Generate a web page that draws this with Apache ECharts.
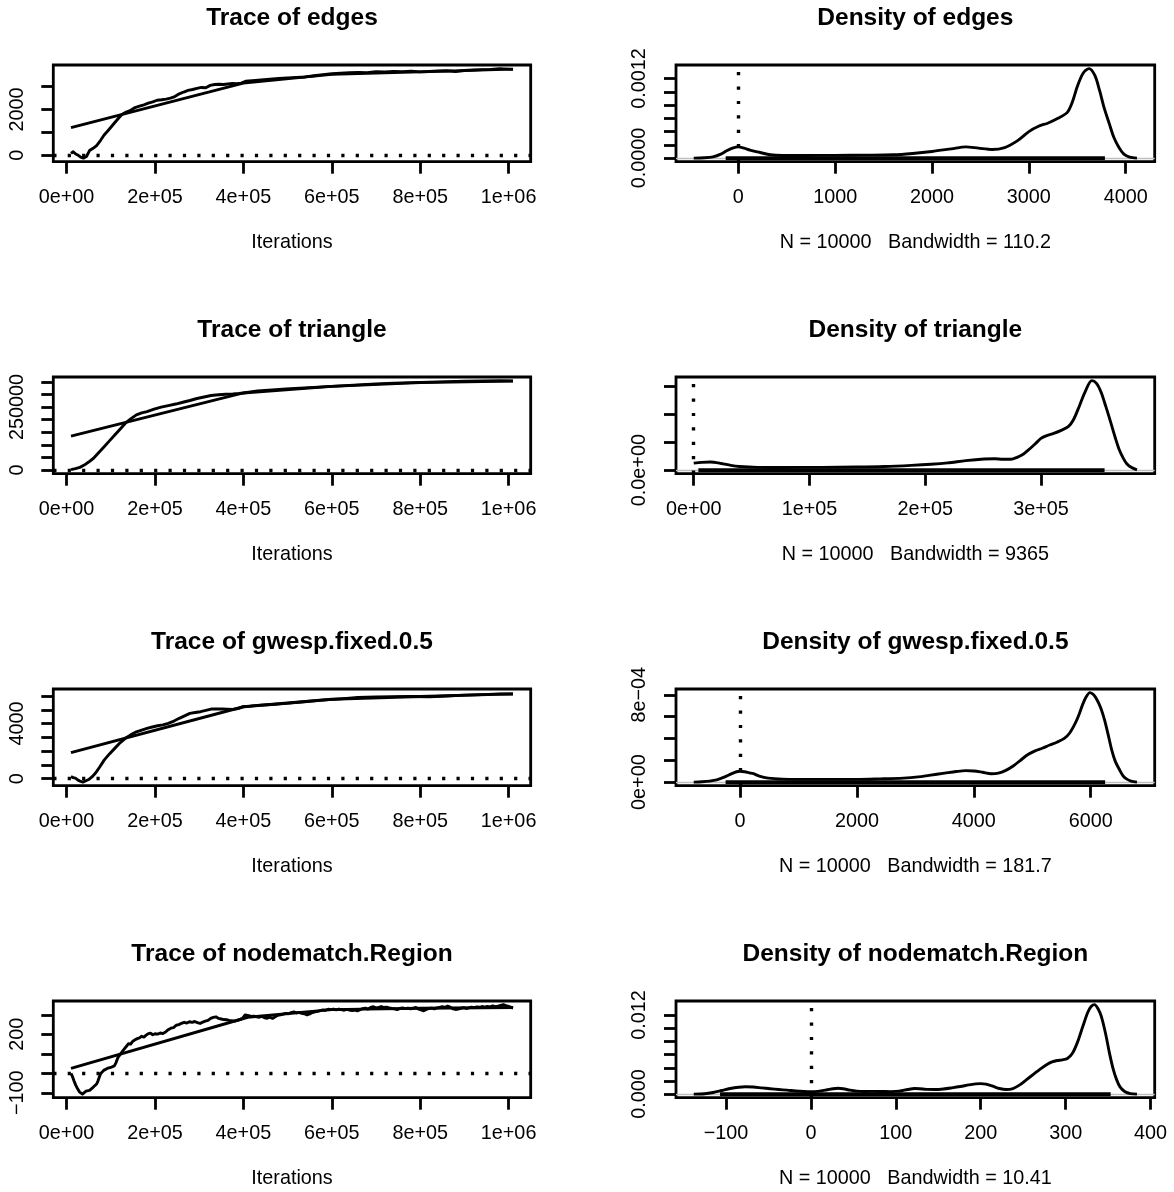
<!DOCTYPE html>
<html><head><meta charset="utf-8">
<script src="https://cdn.jsdelivr.net/npm/echarts@6/dist/echarts.min.js"></script>
<style>html,body{margin:0;padding:0;background:#fff}#c{width:1174px;height:1192px}</style>
</head><body><div id="c"></div>
<script>
// ================= DATA =================
const statNames = ['edges', 'triangle', 'gwesp.fixed.0.5', 'nodematch.Region'];
const sampleSize = 10000;
const bandwidths = ['110.2', '9365', '181.7', '10.41'];
const iterRange = [10000, 1010000];
const iterTicks = [0, 200000, 400000, 600000, 800000, 1000000];
const iterTickLabels = ['0e+00', '2e+05', '4e+05', '6e+05', '8e+05', '1e+06'];

const traceYRange = [[-130, 3785], [0, 355000], [-247, 6246], [-107, 353]];
const traceYTicks = [
  [0, 1000, 2000, 3000],
  [0, 50000, 100000, 150000, 200000, 250000, 300000, 350000],
  [0, 1000, 2000, 3000, 4000, 5000, 6000],
  [-100, 0, 100, 200, 300]
];
const traceYLabelValues = [[0, 2000], [0, 250000], [0, 4000], [-100, 200]];
const traceYLabels = [['0', '2000'], ['0', '250000'], ['0', '4000'], ['\u2212100', '200']];

const densXRange = [[-460, 4116], [0, 383000], [-792, 6791], [-138, 384]];
const densYRange = [[0, 0.00135], [0, 1.61e-5], [0, 8.2e-4], [0, 0.0136]];
const densXTicks = [[0, 1000, 2000, 3000, 4000], [0, 100000, 200000, 300000], [0, 2000, 4000, 6000], [-100, 0, 100, 200, 300, 400]];
const densXLabels = [['0', '1000', '2000', '3000', '4000'], ['0e+00', '1e+05', '2e+05', '3e+05'], ['0', '2000', '4000', '6000'], ['\u2212100', '0', '100', '200', '300', '400']];
const densYTicks = [
  [0, 0.0002, 0.0004, 0.0006, 0.0008, 0.001, 0.0012],
  [0, 5e-6, 1e-5, 1.5e-5],
  [0, 2e-4, 4e-4, 6e-4, 8e-4],
  [0, 0.002, 0.004, 0.006, 0.008, 0.01, 0.012]
];
const densYLabelValues = [[0, 0.0012], [0], [0, 8e-4], [0, 0.012]];
const densYLabels = [['0.0000', '0.0012'], ['0.0e+00'], ['0e+00', '8e\u221204'], ['0.000', '0.012']];
const rugRange = [[-130, 3785], [4000, 355000], [-247, 6246], [-107, 353]];
const refValue = 0;

// ---- traces ----
const edgesTraceIter = [10000,15000,20000,25000,32000,38000,45000,52000,60000,68000,77000,85000,95000,105000,115000,125000,135000,145000,155000,165000,175000,185000,195000,205000,215000,225000,235000,245000,255000,265000,275000,285000,295000,305000,315000,325000,335000,345000,355000,365000,375000,385000,395000,405000,420000,440000,460000,480000,500000,520000,540000,560000,580000,600000,620000,640000,660000,680000,700000,720000,740000,760000,780000,800000,820000,840000,860000,880000,900000,920000,940000,960000,980000,1000000,1010000];
const edgesTraceVal = [80,150,60,10,-90,-130,-60,200,300,420,650,880,1100,1330,1560,1780,1880,1960,2080,2140,2200,2270,2330,2400,2420,2450,2490,2560,2680,2760,2830,2870,2920,2960,2950,3050,3090,3100,3090,3110,3130,3120,3150,3230,3260,3290,3320,3350,3380,3400,3420,3470,3520,3560,3580,3600,3620,3610,3650,3640,3660,3650,3670,3640,3660,3680,3690,3660,3700,3720,3740,3750,3785,3760,3750];
const edgesFitIter = [10000, 400000, 600000, 800000, 1010000];
const edgesFitVal = [1200, 3150, 3530, 3640, 3760];

const triTraceIter = [10000,20000,30000,40000,50000,61000,73000,85000,97000,109000,121000,133000,145000,158000,170000,182000,198000,214000,230000,247000,263000,279000,295000,311000,327000,344000,360000,376000,390000,400000,416000,432000,465000,497000,538000,578000,620000,659000,700000,740000,780000,821000,860000,901000,940000,980000,1010000];
const triTraceVal = [2000,6000,11000,20000,32000,47000,70000,93000,116000,139000,162000,186000,203000,219000,227000,232000,242000,250000,256000,262000,269000,276000,284000,290000,296000,299000,301000,302000,304000,306000,310000,314000,318000,322000,326000,330000,334000,338000,342000,345000,347000,349000,351000,353000,354000,355000,354000];
const triFitIter = [10000, 400000, 600000, 800000, 1010000];
const triFitVal = [135000, 306000, 332000, 347000, 353000];

const gwTraceIter = [10000,15000,20000,26000,32000,37000,44000,50000,58000,65000,75000,85000,97000,109000,121000,133000,145000,158000,170000,182000,194000,206000,218000,230000,243000,255000,267000,279000,291000,303000,315000,327000,340000,352000,364000,376000,388000,400000,416000,432000,465000,497000,538000,578000,620000,659000,700000,740000,780000,821000,860000,901000,940000,980000,1010000];
const gwTraceVal = [150,80,40,-100,-200,-247,-150,-60,150,390,850,1350,1800,2200,2600,2930,3180,3400,3530,3650,3750,3840,3900,4020,4180,4380,4560,4740,4800,4860,4950,5050,5060,5050,5040,5030,5080,5220,5260,5320,5380,5460,5580,5700,5790,5900,5930,5950,5960,5940,6000,6060,6100,6150,6140];
const gwFitIter = [10000, 400000, 600000, 800000, 1010000];
const gwFitVal = [1890, 5220, 5760, 5960, 6150];

const nmTraceIter = [10000,13000,17000,21000,25000,29000,33000,36000,40000,44000,48000,52000,56000,60000,64000,68000,71000,74000,77000,80000,84000,88000,92000,96000,100000,104000,108000,112000,116000,120000,124000,128000,132000,136000,140000,145000,150000,155000,160000,165000,170000,175000,180000,185000,190000,195000,200000,206000,212000,218000,224000,230000,236000,242000,248000,254000,260000,266000,272000,278000,284000,290000,296000,302000,308000,314000,320000,326000,332000,338000,344000,350000,356000,362000,368000,374000,380000,386000,392000,398000,404000,408000,412000,418000,424000,430000,436000,442000,448000,454000,460000,466000,472000,478000,484000,490000,496000,502000,508000,514000,520000,526000,532000,538000,544000,550000,556000,562000,568000,574000,580000,586000,592000,598000,604000,610000,616000,622000,628000,634000,640000,646000,652000,658000,664000,670000,676000,682000,688000,694000,700000,706000,712000,718000,724000,730000,736000,742000,748000,754000,760000,766000,772000,778000,784000,790000,796000,802000,808000,814000,820000,826000,832000,838000,844000,850000,856000,862000,868000,874000,880000,886000,892000,898000,904000,910000,916000,922000,928000,934000,940000,946000,952000,958000,964000,970000,976000,982000,988000,994000,1000000,1006000,1010000];
const nmTraceVal = [0,-15,-40,-62,-80,-95,-104,-107,-100,-92,-86,-88,-78,-72,-70,-55,-40,-20,-2,8,15,12,25,28,30,40,38,55,80,88,105,118,125,140,152,150,165,172,178,182,190,186,196,204,206,198,203,201,207,204,212,224,232,235,247,250,257,262,258,265,262,266,260,256,263,268,272,282,287,290,282,279,276,275,272,270,268,272,276,282,300,305,296,292,294,290,288,292,285,283,288,282,290,298,300,304,308,306,312,315,310,313,308,306,300,305,312,316,318,322,326,324,329,327,330,326,330,327,324,328,325,322,325,321,327,332,335,330,338,342,336,339,343,338,340,336,333,331,327,333,336,332,335,331,334,338,330,326,321,328,333,335,331,336,339,342,338,345,340,331,328,330,334,337,333,336,340,337,341,339,343,340,344,341,346,342,345,349,353,348,344,339,335];
const nmFitIter = [10000, 410000, 600000, 800000, 1010000];
const nmFitVal = [25, 288, 327, 334, 338];

// ---- densities ----
const edgesDensX = [-460,-350,-260,-180,-120,-60,0,60,121,224,330,455,700,1000,1300,1600,1800,2000,2200,2350,2480,2620,2750,2880,3000,3100,3200,3300,3397,3450,3500,3560,3621,3680,3730,3775,3830,3878,3930,3981,4040,4116];
const edgesDensY = [0,5e-6,2e-5,6e-5,1.1e-4,1.5e-4,1.7e-4,1.5e-4,1.2e-4,8.5e-5,5e-5,4e-5,4e-5,4.2e-5,4.5e-5,5e-5,7e-5,1.0e-4,1.4e-4,1.7e-4,1.5e-4,1.3e-4,1.6e-4,2.6e-4,4.0e-4,4.8e-4,5.3e-4,6.0e-4,6.9e-4,8.5e-4,1.08e-3,1.28e-3,1.35e-3,1.25e-3,1.02e-3,7.7e-4,5.2e-4,3.1e-4,1.6e-4,6e-5,1.5e-5,0];

const triDensX = [0,7000,14200,23700,32000,39500,55000,77400,110000,140500,165000,188000,205000,219500,235000,251000,260000,267000,274000,279400,285000,289000,295000,300000,305000,311000,317000,323600,328000,333000,338000,344000,348000,352000,356000,360000,364000,367800,371000,374000,378000,383000];
const triDensY = [1.25e-6,1.4e-6,1.45e-6,1.2e-6,8.5e-7,6.5e-7,5e-7,4.8e-7,5e-7,5.5e-7,6.5e-7,8.5e-7,1.05e-6,1.3e-6,1.7e-6,2.0e-6,2.05e-6,1.95e-6,1.95e-6,2.3e-6,2.9e-6,3.6e-6,4.7e-6,5.7e-6,6.2e-6,6.6e-6,7.1e-6,7.8e-6,9.0e-6,1.14e-5,1.4e-5,1.61e-5,1.56e-5,1.4e-5,1.15e-5,8.8e-6,6.0e-6,3.6e-6,2.2e-6,1.2e-6,5e-7,5e-8];

const gwDensX = [-792,-650,-519,-400,-269,-150,-60,0,80,160,231,330,482,732,1000,1500,1983,2400,2796,3050,3234,3500,3700,3860,4000,4150,4297,4420,4548,4680,4798,4920,5048,5170,5298,5420,5548,5640,5736,5800,5861,5920,5986,6050,6111,6170,6236,6300,6361,6420,6486,6550,6611,6690,6791];
const gwDensY = [0,3e-6,9e-6,2e-5,4.6e-5,7.5e-5,9.5e-5,1.0e-4,9.5e-5,8.5e-5,7.7e-5,5.5e-5,3.7e-5,2.7e-5,2.5e-5,2.5e-5,2.5e-5,3e-5,3.7e-5,4.8e-5,6.2e-5,8.2e-5,9.7e-5,1.05e-4,1.02e-4,9e-5,7.7e-5,8.2e-5,1.08e-4,1.5e-4,2.0e-4,2.5e-4,2.86e-4,3.1e-4,3.4e-4,3.65e-4,4.0e-4,4.5e-4,5.4e-4,6.2e-4,7.1e-4,7.8e-4,8.2e-4,8.0e-4,7.5e-4,6.8e-4,5.7e-4,4.3e-4,2.9e-4,1.9e-4,1.2e-4,6e-5,3e-5,1e-5,0];

const nmDensX = [-138,-125,-115,-105,-95,-85,-77,-68,-58,-48,-38,-28,-18,-8,0,8,18,26,32,38,46,54,64,74,84,94,104,114,122,128,136,146,156,166,176,186,194,200,206,214,222,230,238,246,254,262,270,278,284,290,296,302,308,314,320,326,330,334,338,342,347,352,356,360,364,370,376,384];
const nmDensY = [0,5e-5,2.5e-4,5.5e-4,8.5e-4,1.05e-3,1.12e-3,1.08e-3,9.5e-4,8.2e-4,7e-4,6e-4,4.8e-4,4e-4,3.7e-4,4.2e-4,6.2e-4,8.2e-4,9e-4,8.2e-4,6e-4,4.5e-4,4e-4,4.2e-4,4e-4,3.8e-4,4.5e-4,7e-4,8.5e-4,8.2e-4,7.2e-4,7e-4,7.8e-4,9.5e-4,1.15e-3,1.4e-3,1.55e-3,1.6e-3,1.52e-3,1.2e-3,8.5e-4,7e-4,8.5e-4,1.4e-3,2.2e-3,3.0e-3,3.8e-3,4.5e-3,4.9e-3,5.1e-3,5.2e-3,5.4e-3,6.2e-3,7.9e-3,1.02e-2,1.24e-2,1.33e-2,1.36e-2,1.3e-2,1.18e-2,9.2e-3,6.0e-3,3.8e-3,2.2e-3,1.1e-3,3.5e-4,8e-5,0];

const traces = [
  [edgesTraceIter, edgesTraceVal, edgesFitIter, edgesFitVal],
  [triTraceIter, triTraceVal, triFitIter, triFitVal],
  [gwTraceIter, gwTraceVal, gwFitIter, gwFitVal],
  [nmTraceIter, nmTraceVal, nmFitIter, nmFitVal]
];
const densities = [[edgesDensX, edgesDensY], [triDensX, triDensY], [gwDensX, gwDensY], [nmDensX, nmDensY]];

// ================= LAYOUT / STYLE =================
const FONT = 'Liberation Sans, Arial, Helvetica, sans-serif';
const FS = 19.8;
const TITLE_FS = 24.5;
const ROW_STEP = 312;
const BOX_TOP = 65, BOX_H = 96.7;
const COL = [{left: 53.3, width: 477.4}, {left: 676, width: 478.7}];
const LW = 2.9;

function rLim(r) { const d = r[1] - r[0]; return [r[0] - 0.04 * d, r[1] + 0.04 * d]; }
function pairs(xs, ys) { return xs.map((x, i) => [x, ys[i]]); }
function fmt(vals, labels) {
  return function (v) {
    const k = vals.findIndex(x => Math.abs(x - v) <= Math.abs(x) * 1e-9 + 1e-15);
    return k < 0 ? '' : labels[k];
  };
}
const labelStyle = {color: '#000', fontSize: FS, fontFamily: FONT};
const tickStyle = {show: true, length: 12, lineStyle: {color: '#000', width: 2.8}};

const grids = [], xAxes = [], yAxes = [], series = [], graphics = [];
for (let i = 0; i < 4; i++) {
  for (let c = 0; c < 2; c++) {
    const g = 2 * i + c;
    const top = BOX_TOP + ROW_STEP * i;
    grids.push({left: COL[c].left, top: top, width: COL[c].width, height: BOX_H,
      show: true, borderColor: '#000', borderWidth: 2.8, backgroundColor: 'transparent', containLabel: false});
    graphics.push({type: 'text', x: COL[c].left + COL[c].width / 2, y: 18 + ROW_STEP * i,
      style: {text: (c === 0 ? 'Trace of ' : 'Density of ') + statNames[i], fill: '#000',
        font: 'bold ' + TITLE_FS + 'px ' + FONT, align: 'center', verticalAlign: 'middle'}});
    const xr = c === 0 ? rLim(iterRange) : rLim(densXRange[i]);
    const yr = c === 0 ? rLim(traceYRange[i]) : rLim(densYRange[i]);
    const xt = c === 0 ? iterTicks : densXTicks[i];
    const xl = c === 0 ? iterTickLabels : densXLabels[i];
    const yt = c === 0 ? traceYTicks[i] : densYTicks[i];
    const ylv = c === 0 ? traceYLabelValues[i] : densYLabelValues[i];
    const yl = c === 0 ? traceYLabels[i] : densYLabels[i];
    xAxes.push({type: 'value', gridIndex: g, min: xr[0], max: xr[1], position: 'bottom',
      axisLine: {show: false, onZero: false}, splitLine: {show: false},
      axisTick: Object.assign({customValues: xt}, tickStyle),
      axisLabel: Object.assign({customValues: xt, formatter: fmt(xt, xl), margin: 26}, labelStyle),
      name: c === 0 ? 'Iterations' : 'N = ' + sampleSize + '   Bandwidth = ' + bandwidths[i],
      nameLocation: 'middle', nameGap: 71, nameTextStyle: labelStyle});
    yAxes.push({type: 'value', gridIndex: g, min: yr[0], max: yr[1], position: 'left',
      axisLine: {show: false, onZero: false}, splitLine: {show: false},
      axisTick: Object.assign({customValues: yt}, tickStyle),
      axisLabel: Object.assign({customValues: ylv, formatter: fmt(ylv, yl), margin: 26, rotate: 90}, labelStyle)});
    const dotted = {color: '#000', width: 3.4, type: [3.2, 11.2]};
    if (c === 0) {
      const t = traces[i];
      series.push({type: 'line', xAxisIndex: g, yAxisIndex: g, data: pairs(t[0], t[1]), showSymbol: false, symbol: 'none',
        lineStyle: {color: '#000', width: LW, join: 'round'}, z: 3, silent: true,
        markLine: {silent: true, symbol: 'none', label: {show: false}, z: 2, animation: false,
          lineStyle: dotted, data: [{yAxis: refValue}]}});
      series.push({type: 'line', xAxisIndex: g, yAxisIndex: g, data: pairs(t[2], t[3]), showSymbol: false, symbol: 'none',
        lineStyle: {color: '#000', width: LW, join: 'round'}, z: 3, silent: true});
    } else {
      const d = densities[i];
      series.push({type: 'line', xAxisIndex: g, yAxisIndex: g, data: pairs(d[0], d[1]), showSymbol: false, symbol: 'none',
        smooth: 0.3, lineStyle: {color: '#000', width: LW, join: 'round'}, z: 3, silent: true,
        markLine: {silent: true, symbol: 'none', label: {show: false}, z: 1, animation: false,
          lineStyle: {color: '#bebebe', width: 1.3, type: 'solid'}, data: [{yAxis: 0}]}});
      series.push({type: 'line', xAxisIndex: g, yAxisIndex: g, data: [[rugRange[i][0], 0], [rugRange[i][1], 0]],
        showSymbol: false, symbol: 'none', lineStyle: {color: '#000', width: 3.8, cap: 'butt'}, z: 4, silent: true,
        markLine: {silent: true, symbol: 'none', label: {show: false}, z: 2, animation: false,
          lineStyle: dotted, data: [{xAxis: refValue}]}});
    }
  }
}

const chart = echarts.init(document.getElementById('c'), null, {renderer: 'canvas'});
chart.setOption({
  animation: false,
  backgroundColor: '#ffffff',
  textStyle: {fontFamily: FONT},
  grid: grids, xAxis: xAxes, yAxis: yAxes, series: series, graphic: graphics
});
</script></body></html>
